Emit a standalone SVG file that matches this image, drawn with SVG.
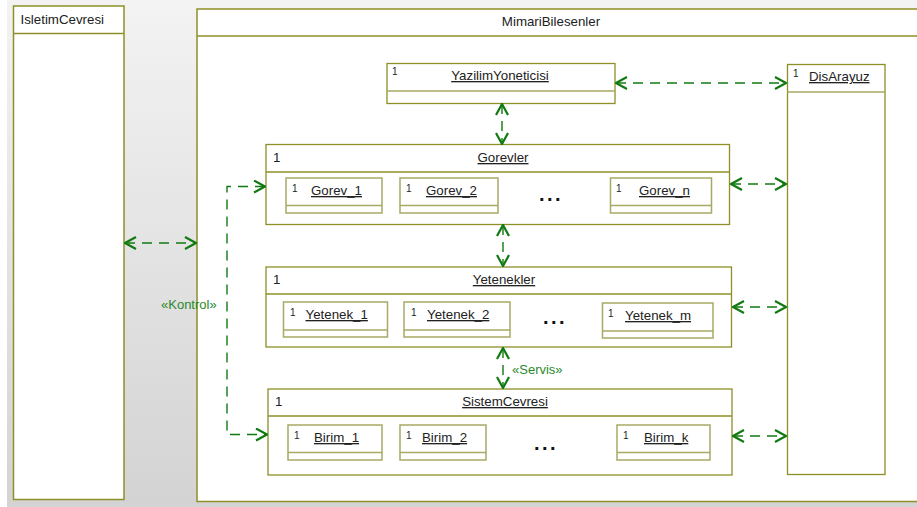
<svg xmlns="http://www.w3.org/2000/svg" width="917" height="507" viewBox="0 0 917 507">
<defs>
<linearGradient id="bg" x1="0" y1="0" x2="0" y2="1">
<stop offset="0" stop-color="#f3f3f3"/>
<stop offset="1" stop-color="#d3d3d3"/>
</linearGradient>
<marker id="ar" viewBox="0 0 13 14" markerWidth="13" markerHeight="14" refX="12" refY="7" orient="auto-start-reverse" markerUnits="userSpaceOnUse">
<path d="M1,1 L12,7 L1,13" fill="none" stroke="#127a12" stroke-width="2.2"/>
</marker>
</defs>
<style>
.frame{fill:#fff;stroke:#8f8f28;stroke-width:1.5}
.part{fill:#fff;stroke:#8f8f28;stroke-width:1.3}
.inst{fill:#fff;stroke:#a9a964;stroke-width:1.5}
.t{font-family:"Liberation Sans",Arial,sans-serif;font-size:13.3px;fill:#222}
.n{font-family:"Liberation Sans",Arial,sans-serif;font-size:13.3px;fill:#222;text-decoration:underline}
.m{font-family:"Liberation Sans",Arial,sans-serif;font-size:10px;fill:#222}
.dots{font-family:"Liberation Sans",Arial,sans-serif;font-size:20px;font-weight:bold;fill:#111;letter-spacing:2.5px}
.c{fill:none;stroke:#127a12;stroke-width:1.4;stroke-dasharray:10 7}
.lbl{font-family:"Liberation Sans",Arial,sans-serif;font-size:13px;fill:#2a8a2a}
</style>
<rect x="0" y="0" width="917" height="507" fill="#fff"/>
<rect x="7" y="0" width="910" height="507" fill="url(#bg)"/>

<g id="IsletimCevresi">
<rect class="frame" x="13.5" y="6" width="110.5" height="493.5"/>
<line x1="13.5" y1="33.5" x2="124" y2="33.5" stroke="#8f8f28" stroke-width="1.5"/>
<text class="t" x="20.5" y="24">IsletimCevresi</text>
</g>

<g id="MimariBilesenler">
<rect class="frame" x="197" y="9" width="730" height="492.5"/>
<line x1="197" y1="36" x2="917" y2="36" stroke="#8f8f28" stroke-width="1.5"/>
<text class="t" x="551" y="26" text-anchor="middle">MimariBilesenler</text>
</g>

<g id="YazilimYoneticisi">
<rect class="part" x="387" y="63.5" width="228" height="40"/>
<line x1="387" y1="91" x2="615" y2="91" stroke="#a9a964" stroke-width="1.5"/>
<text class="m" x="392" y="75">1</text>
<text class="n" x="500" y="80" text-anchor="middle">YazilimYoneticisi</text>
</g>

<g id="DisArayuz">
<rect class="part" x="787.5" y="64.5" width="97.5" height="410"/>
<line x1="787.5" y1="92" x2="885" y2="92" stroke="#a9a964" stroke-width="1.5"/>
<text class="m" x="793" y="77">1</text>
<text class="n" x="809" y="81">DisArayuz</text>
</g>

<g id="Gorevler">
<rect class="part" x="266" y="144.5" width="463.5" height="80"/>
<line x1="266" y1="172" x2="729.5" y2="172" stroke="#8f8f28" stroke-width="1.3"/>
<text class="t" x="273" y="162">1</text>
<text class="n" x="503" y="162" text-anchor="middle">Gorevler</text>
<text class="dots" x="551" y="201" text-anchor="middle">...</text>
</g>
<g id="Gorev_1">
<rect class="inst" x="286" y="178" width="96" height="35"/>
<line x1="286" y1="205.5" x2="382" y2="205.5" stroke="#a9a964" stroke-width="1.3"/>
<text class="m" x="292" y="192">1</text>
<text class="n" x="311" y="195">Gorev_1</text>
</g>
<g id="Gorev_2">
<rect class="inst" x="400" y="178" width="98" height="35"/>
<line x1="400" y1="205.5" x2="498" y2="205.5" stroke="#a9a964" stroke-width="1.3"/>
<text class="m" x="406" y="192">1</text>
<text class="n" x="426" y="195">Gorev_2</text>
</g>
<g id="Gorev_n">
<rect class="inst" x="610.5" y="178" width="101" height="35"/>
<line x1="610.5" y1="205.5" x2="711.5" y2="205.5" stroke="#a9a964" stroke-width="1.3"/>
<text class="m" x="616" y="192">1</text>
<text class="n" x="639" y="195">Gorev_n</text>
</g>

<g id="Yetenekler">
<rect class="part" x="266" y="267" width="465.5" height="80"/>
<line x1="266" y1="294" x2="731.5" y2="294" stroke="#8f8f28" stroke-width="1.3"/>
<text class="t" x="273" y="284">1</text>
<text class="n" x="504" y="284" text-anchor="middle">Yetenekler</text>
<text class="dots" x="555" y="324" text-anchor="middle">...</text>
</g>
<g id="Yetenek_1">
<rect class="inst" x="283.5" y="302" width="104" height="35"/>
<line x1="283.5" y1="330" x2="387.5" y2="330" stroke="#a9a964" stroke-width="1.3"/>
<text class="m" x="290" y="316">1</text>
<text class="n" x="305.5" y="319">Yetenek_1</text>
</g>
<g id="Yetenek_2">
<rect class="inst" x="404" y="302" width="106" height="35"/>
<line x1="404" y1="330" x2="510" y2="330" stroke="#a9a964" stroke-width="1.3"/>
<text class="m" x="411" y="316">1</text>
<text class="n" x="427" y="319">Yetenek_2</text>
</g>
<g id="Yetenek_m">
<rect class="inst" x="602.5" y="303" width="110.5" height="35"/>
<line x1="602.5" y1="331" x2="713" y2="331" stroke="#a9a964" stroke-width="1.3"/>
<text class="m" x="608" y="317">1</text>
<text class="n" x="625" y="320">Yetenek_m</text>
</g>

<g id="SistemCevresi">
<rect class="part" x="268" y="389" width="464" height="86"/>
<line x1="268" y1="416" x2="732" y2="416" stroke="#8f8f28" stroke-width="1.3"/>
<text class="t" x="275" y="406">1</text>
<text class="n" x="505" y="406" text-anchor="middle">SistemCevresi</text>
<text class="dots" x="546" y="450" text-anchor="middle">...</text>
</g>
<g id="Birim_1">
<rect class="inst" x="288" y="425" width="94" height="35"/>
<line x1="288" y1="452.5" x2="382" y2="452.5" stroke="#a9a964" stroke-width="1.3"/>
<text class="m" x="294" y="439">1</text>
<text class="n" x="314" y="442">Birim_1</text>
</g>
<g id="Birim_2">
<rect class="inst" x="400" y="425" width="86" height="35"/>
<line x1="400" y1="452.5" x2="486" y2="452.5" stroke="#a9a964" stroke-width="1.3"/>
<text class="m" x="406" y="439">1</text>
<text class="n" x="422" y="442">Birim_2</text>
</g>
<g id="Birim_k">
<rect class="inst" x="617" y="425" width="93" height="35"/>
<line x1="617" y1="452.5" x2="710" y2="452.5" stroke="#a9a964" stroke-width="1.3"/>
<text class="m" x="623" y="439">1</text>
<text class="n" x="644" y="442">Birim_k</text>
</g>

<g id="connectors">
<line class="c" x1="616" y1="83" x2="786" y2="83" marker-start="url(#ar)" marker-end="url(#ar)"/>
<line class="c" x1="502" y1="104" x2="502" y2="144" marker-start="url(#ar)" marker-end="url(#ar)" stroke-dasharray="none"/>
<line class="c" x1="503" y1="225" x2="503" y2="266" marker-start="url(#ar)" marker-end="url(#ar)" stroke-dasharray="18 6"/>
<line class="c" x1="503" y1="348" x2="503" y2="388" marker-start="url(#ar)" marker-end="url(#ar)" stroke-dasharray="16 6"/>
<line class="c" x1="731" y1="184" x2="786" y2="184" marker-start="url(#ar)" marker-end="url(#ar)"/>
<line class="c" x1="733" y1="307" x2="786" y2="307" marker-start="url(#ar)" marker-end="url(#ar)"/>
<line class="c" x1="733" y1="436" x2="786" y2="436" marker-start="url(#ar)" marker-end="url(#ar)"/>
<line class="c" x1="125" y1="243" x2="196" y2="243" marker-start="url(#ar)" marker-end="url(#ar)"/>
<path class="c" d="M265,186.5 H227 V434.5 H267" marker-start="url(#ar)" marker-end="url(#ar)"/>
<text class="lbl" x="161" y="309">«Kontrol»</text>
<text class="lbl" x="512" y="374">«Servis»</text>
</g>
</svg>
